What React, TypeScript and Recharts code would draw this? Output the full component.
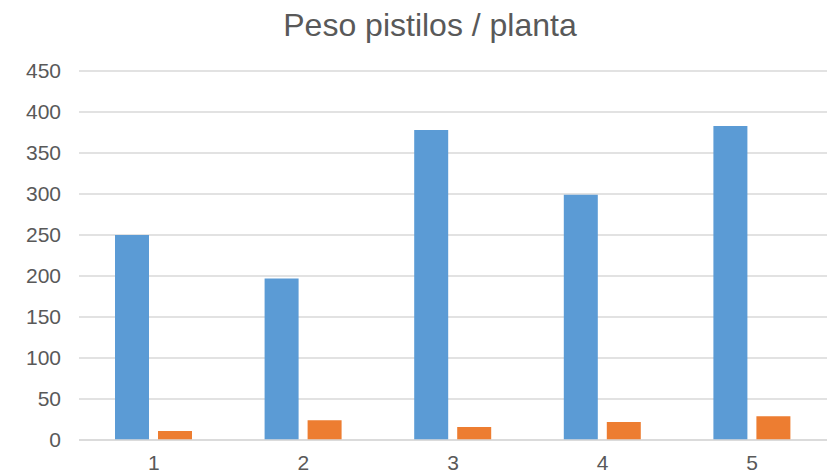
import { BarChart, Bar, XAxis, YAxis, CartesianGrid } from 'recharts'

// Peso de pistilos por planta (dos series)
const plantas = ['1', '2', '3', '4', '5']
const pesoA = [250, 197, 378, 299, 383]
const pesoB = [11, 24, 16, 22, 29]
const yTicks = [0, 50, 100, 150, 200, 250, 300, 350, 400, 450]

const FONT = '"Liberation Sans", Arial, sans-serif'
const TEXT = '#595959'
const GRID = '#d9d9d9'

const data = plantas.map((p, i) => ({ planta: p, a: pesoA[i], b: pesoB[i] }))

export default function App() {
  return (
    <div style={{ position: 'absolute', left: 0, top: 0, width: 830, height: 474, background: '#fff' }}>
      <div
        style={{
          position: 'absolute',
          left: 0,
          width: 860,
          top: 9,
          textAlign: 'center',
          fontFamily: FONT,
          fontSize: 32,
          lineHeight: '32px',
          color: TEXT,
        }}
      >
        Peso pistilos / planta
      </div>
      <BarChart
        width={830}
        height={474}
        data={data}
        margin={{ top: 71, right: 3, bottom: 0, left: 0 }}
        barGap={9}
        barSize={34}
      >
        <CartesianGrid vertical={false} stroke={GRID} strokeWidth={1.3} />
        <XAxis
          dataKey="planta"
          height={34}
          axisLine={{ stroke: GRID, strokeWidth: 1.3 }}
          tickLine={false}
          tickMargin={9}
          tick={{ fill: TEXT, fontSize: 21, fontFamily: FONT }}
        />
        <YAxis
          width={79}
          domain={[0, 450]}
          ticks={yTicks}
          axisLine={false}
          tickLine={false}
          tickMargin={12}
          tick={{ fill: TEXT, fontSize: 21, fontFamily: FONT }}
        />
        <Bar dataKey="a" fill="#5B9BD5" isAnimationActive={false} />
        <Bar dataKey="b" fill="#ED7D31" isAnimationActive={false} />
      </BarChart>
    </div>
  )
}
